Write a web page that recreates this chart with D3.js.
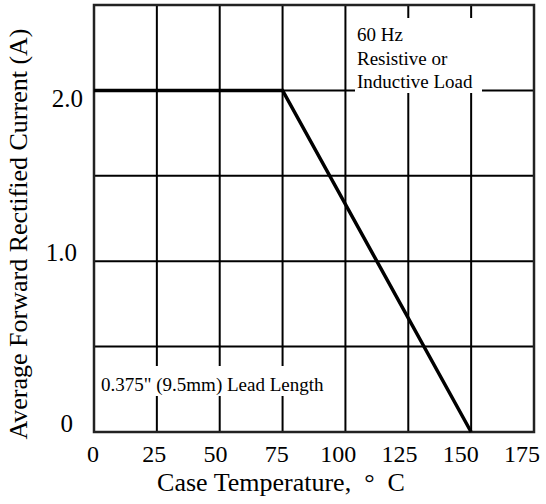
<!DOCTYPE html>
<meta charset="utf-8">
<style>
body { margin: 0; background: #fff; }
text { font-family: "Liberation Serif", "Times New Roman", serif; fill: #000; }
.grid line { stroke: #000; stroke-width: 2px; }
.curve { fill: none; stroke: #000; stroke-width: 3.5px; }
</style>
<body>
<div id="chart"></div>
<script src="https://d3js.org/d3.v7.min.js"></script>
<script>
// derating curve
var caseTemp = [0, 75, 150];
var current = [2.0, 2.0, 0];

// ticks
var xTicks = [0, 25, 50, 75, 100, 125, 150, 175];
var yGrid = [0, 0.5, 1.0, 1.5, 2.0, 2.5];
var yTicks = [0, 1.0, 2.0];
var yTickText = ["0", "1.0", "2.0"];

var noteLoad = ["60 Hz", "Resistive or", "Inductive Load"];
var noteLead = "0.375\" (9.5mm) Lead Length";

var width = 546, height = 504;

var svg = d3.select("#chart").append("svg")
    .attr("width", width)
    .attr("height", height);

// set the ranges
var x = d3.scaleLinear().domain([0, 175]).range([94, 534]);
var xLab = d3.scaleLinear().domain([0, 175]).range([93, 522]);
var y = d3.scaleLinear().domain([0, 2.5]).range([432, 5]);

// grid
var grid = svg.append("g").attr("class", "grid");
grid.selectAll(".v").data(xTicks).enter().append("line")
    .attr("x1", function(d) { return x(d); })
    .attr("x2", function(d) { return x(d); })
    .attr("y1", y(0)).attr("y2", y(2.5));
grid.selectAll(".h").data(yGrid).enter().append("line")
    .attr("x1", x(0)).attr("x2", x(175))
    .attr("y1", function(d) { return y(d); })
    .attr("y2", function(d) { return y(d); });

// white boxes behind the notes
svg.append("rect").attr("x", 355).attr("y", 18).attr("width", 127).attr("height", 75).attr("fill", "#fff");
svg.append("rect").attr("x", 97).attr("y", 366).attr("width", 243).attr("height", 30).attr("fill", "#fff");

// frame
svg.append("rect")
    .attr("x", x(0)).attr("y", y(2.5))
    .attr("width", x(175) - x(0)).attr("height", y(0) - y(2.5))
    .attr("fill", "none").attr("stroke", "#222").attr("stroke-width", 2.5);

// the curve
var line = d3.line()
    .x(function(d, i) { return x(caseTemp[i]); })
    .y(function(d) { return y(d); });
svg.append("path").datum(current).attr("class", "curve").attr("d", line);

// x tick labels
svg.selectAll(".xt").data(xTicks).enter().append("text")
    .attr("x", function(d) { return xLab(d); })
    .attr("y", 462)
    .attr("text-anchor", "middle")
    .style("font-size", "24px")
    .text(function(d) { return d; });

// y tick labels
svg.selectAll(".yt").data(yTicks).enter().append("text")
    .attr("x", function(d) { return d == 2 ? 83 : (d == 1 ? 77 : 73); })
    .attr("y", function(d) { return d == 2 ? y(d) + 17 : y(d); })
    .attr("text-anchor", "end")
    .style("font-size", "25px")
    .text(function(d, i) { return yTickText[i]; });

// axis titles
svg.append("text")
    .attr("x", 281).attr("y", 491)
    .attr("text-anchor", "middle")
    .style("font-size", "26px")
    .text("Case Temperature,\u00a0\u00a0\u00b0\u00a0\u00a0C");

svg.append("text")
    .attr("transform", "translate(27,234) rotate(-90)")
    .attr("text-anchor", "middle")
    .style("font-size", "26px")
    .text("Average Forward Rectified Current (A)");

// notes
svg.selectAll(".note").data(noteLoad).enter().append("text")
    .attr("x", 357)
    .attr("y", function(d, i) { return 41 + i * 23.5; })
    .style("font-size", "19px")
    .text(function(d) { return d; });

svg.append("text")
    .attr("x", 101).attr("y", 391)
    .style("font-size", "19px")
    .text(noteLead);
</script>
</body>
